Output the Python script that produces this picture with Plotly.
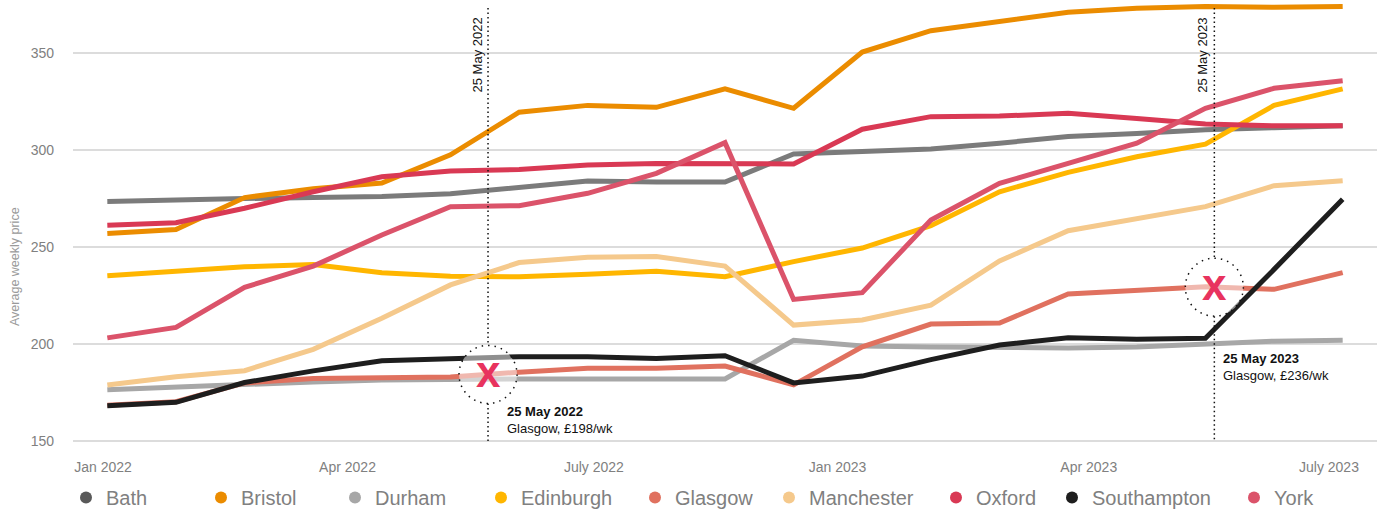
import numpy as np
import plotly.graph_objects as go

# ---- data -----------------------------------------------------------------
months = ["Jan 2022", "Feb 2022", "Mar 2022", "Apr 2022", "May 2022", "Jun 2022",
          "Jul 2022", "Aug 2022", "Sep 2022", "Oct 2022", "Nov 2022", "Dec 2022",
          "Jan 2023", "Feb 2023", "Mar 2023", "Apr 2023", "May 2023", "Jun 2023",
          "Jul 2023"]

bath = [273.5, 274.5, 275, 275.5, 276, 277.5, 280.5, 284, 283.5, 283.5,
        298, 299, 300.5, 303.5, 307, 308.5, 310.5, 311.5, 312.5]
bristol = [257, 259, 275.5, 280, 283, 297.5, 319.5, 323, 322, 331.5,
           321.5, 350.5, 361.5, 366.5, 371, 373, 374, 373.5, 374]
durham = [176.5, 178, 179.5, 180.5, 181.5, 182, 182, 182, 182, 182,
          202, 199, 198.5, 198, 198, 198.5, 200, 201.5, 202]
edinburgh = [235.2, 237.3, 239.8, 241, 236.8, 235, 234.7, 236, 237.5, 234.7,
             242.5, 249.5, 261, 278.5, 288.5, 296.5, 303, 323, 331.5]
glasgow = [168.5, 170.3, 180, 182.3, 182.6, 183, 185.5, 187.5, 187.5, 188.7,
           179, 198.6, 210.3, 210.8, 225.8, 227.5, 229.5, 228.2, 236.8]
manchester = [178.9, 183.2, 186.3, 197.3, 213.3, 230.5, 242, 244.8, 245.1, 240.2,
              209.8, 212.4, 220.1, 242.8, 258.4, 264.8, 270.8, 281.6, 284.2]
oxford = [261.2, 262.5, 270, 278.5, 286.2, 289.2, 290, 292.3, 293.1, 293.1,
          292.8, 310.7, 317.2, 317.5, 318.9, 316.2, 313.4, 312.5, 312.5]
southampton = [168.2, 170, 180.2, 186.2, 191.4, 192.6, 193.5, 193.5, 192.6, 194,
               180, 183.5, 192, 199.5, 203.3, 202.5, 203, 238.5, 274.6]
york = [203.2, 208.6, 229.2, 240.2, 256.2, 270.8, 271.3, 277.7, 288, 303.8,
        223, 226.5, 263.9, 282.8, 293.1, 303.5, 321.5, 331.8, 335.7]

cities = ["Bath", "Bristol", "Durham", "Edinburgh", "Glasgow", "Manchester",
          "Oxford", "Southampton", "York"]
series = [bath, bristol, durham, edinburgh, glasgow, manchester, oxford,
          southampton, york]

tick_labels = ["Jan 2022", "Apr 2022", "July 2022", "Jan 2023", "Apr 2023", "July 2023"]
tick_pos = [-0.063, 3.50, 7.09, 10.64, 14.30, 17.80]

# highlighted Glasgow readings
event_titles = ["25 May 2022", "25 May 2023"]
event_notes = ["Glasgow, £198/wk", "Glasgow, £236/wk"]
event_pos = [5.547, 16.13]

# ---- styling --------------------------------------------------------------
line_colors = ["#7b7b7b", "#EB8C00", "#a7a7a7", "#FFB600", "#E0715F",
               "#F5C98C", "#D93954", "#1e1e1e", "#DB536A"]
dot_colors = ["#595959", "#EB8C00", "#a7a7a7", "#FFB600", "#E0715F",
              "#F5C98C", "#D93954", "#1e1e1e", "#DB536A"]
FONT = "Liberation Sans, Arial, Helvetica, sans-serif"
W, H = 1383, 512
M_L, M_R, M_T, M_B = 73, 6, 0, 67
PLOT_W = W - M_L - M_R
PLOT_H = H - M_T - M_B
legend_dot_px = [86, 221, 355, 501, 655, 789, 956, 1072, 1254]

x = list(range(len(months)))
fig = go.Figure()

for i, (name, vals) in enumerate(zip(cities, series)):
    fig.add_trace(go.Scatter(
        x=x, y=vals, mode="lines", name=name, legendgroup=name,
        showlegend=False, customdata=months,
        hovertemplate="%{customdata}<br>" + name + ": £%{y}/wk<extra></extra>",
        line=dict(color=line_colors[i], width=5),
    ))

# legend entries drawn as round dots, one small legend per city
for i, name in enumerate(cities):
    key = "legend" if i == 0 else f"legend{i + 1}"
    fig.add_trace(go.Scatter(
        x=[None], y=[None], mode="markers", name=name, legendgroup=name,
        legend=key, showlegend=True,
        marker=dict(color=dot_colors[i], size=12),
    ))
    fig.update_layout({key: dict(
        x=(legend_dot_px[i] - 20 - M_L) / PLOT_W, xanchor="left",
        y=(PLOT_H - H - 5) / PLOT_H, yanchor="bottom", orientation="h",
        bgcolor="rgba(0,0,0,0)", borderwidth=0,
        font=dict(family=FONT, size=20, color="#808080"),
    )})

# event markers
R = 29  # ring radius in px
y_per_px = (377.3 - 148) / PLOT_H
shapes = []
annotations = []
glasgow_at = np.interp(event_pos, x, glasgow)
label_shift = [(17, -28), (7, -62)]
title_shift = [-11, -12]
for k, (ex, gy) in enumerate(zip(event_pos, glasgow_at)):
    r_data = R * y_per_px
    for y0, y1 in [(373.2, gy + r_data), (gy - r_data, 150)]:
        shapes.append(dict(type="line", xref="x", yref="y", x0=ex, x1=ex,
                           y0=y0, y1=y1, layer="above",
                           line=dict(color="#111111", width=1.5, dash="1.5px,3px")))
    shapes.append(dict(type="circle", xref="x", yref="y", xsizemode="pixel",
                       ysizemode="pixel", xanchor=ex, yanchor=gy,
                       x0=-R, x1=R, y0=-R, y1=R, layer="above",
                       fillcolor="rgba(255,255,255,0.5)",
                       line=dict(color="#111111", width=1.5, dash="1.5px,5px")))
    annotations.append(dict(x=ex, y=gy, xref="x", yref="y", text="<b>x</b>",
                            showarrow=False, yshift=3,
                            font=dict(family=FONT, size=44, color="#E8335E")))
    annotations.append(dict(x=ex, y=373.2, xref="x", yref="y", text=event_titles[k],
                            textangle=-90, showarrow=False, xanchor="center",
                            yanchor="top", xshift=title_shift[k], yshift=-8,
                            font=dict(family=FONT, size=13, color="#111111")))
    dx, dy = label_shift[k]
    annotations.append(dict(x=ex, y=gy, xref="x", yref="y",
                            text=f"<b>{event_titles[k]}</b><br>{event_notes[k]}",
                            showarrow=False, xanchor="left", yanchor="top",
                            align="left", xshift=dx, yshift=dy,
                            font=dict(family=FONT, size=13, color="#111111")))

annotations.append(dict(x=(13 - M_L) / PLOT_W, y=(PLOT_H - 267) / PLOT_H,
                        xref="paper", yref="paper", text="Average weekly price",
                        textangle=-90, showarrow=False, xshift=-7,
                        font=dict(family=FONT, size=12.5, color="#9a9a9a")))

fig.update_layout(
    width=W, height=H,
    margin=dict(l=M_L, r=M_R, t=M_T, b=M_B, autoexpand=False),
    paper_bgcolor="white", plot_bgcolor="white",
    font=dict(family=FONT, color="#808080"),
    shapes=shapes, annotations=annotations,
    hovermode="closest",
    xaxis=dict(range=[-0.5, 18.5], tickmode="array", tickvals=tick_pos,
               ticktext=tick_labels, showgrid=False, zeroline=False,
               showline=False, ticks="", ticklabelstandoff=12,
               tickfont=dict(family=FONT, size=14, color="#808080")),
    yaxis=dict(range=[148, 377.3], tickvals=[150, 200, 250, 300, 350],
               showgrid=True, gridcolor="#dcdcdc", gridwidth=1.5,
               zeroline=False, showline=False, ticks="", ticklabelstandoff=18,
               tickfont=dict(family=FONT, size=14, color="#808080")),
)

fig.write_html("out.html")
